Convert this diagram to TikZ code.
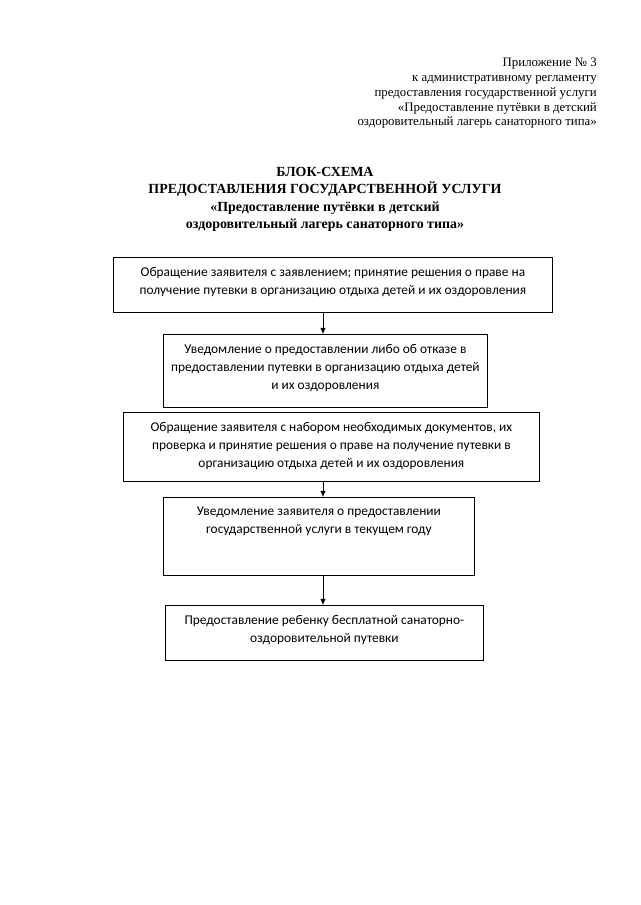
\documentclass[tikz,border=0pt]{standalone}
\usepackage{fontspec}
\setmainfont{Liberation Serif}
\newfontfamily\calibrifont{Carlito}
\usetikzlibrary{arrows.meta,positioning}
\newlength\pxu
\setlength\pxu{0.0328125cm}
\providecommand{\stagetext}[3]{\parbox[t][#2\pxu][t]{#1\pxu}{\centering\vspace*{9pt}#3}}

\begin{document}
\begin{tikzpicture}[
    x=0.0328125cm, y=-0.0328125cm,
    stage/.style={draw, line width=0.7pt, inner sep=0pt, anchor=north west, font=\calibrifont\fontsize{12.5}{17}\selectfont},
    header/.style={align=right, anchor=north east, inner sep=0pt, font=\fontsize{12}{13.8}\selectfont},
    heading/.style={align=center, anchor=north, inner sep=0pt, font=\bfseries\fontsize{13}{16.3}\selectfont},
    arr/.style={-{Latex[length=2mm,width=1.8mm]}, line width=0.6pt}
]
\useasboundingbox (0,0) rectangle (640,905);

\node[header] (annex) at (597,58) {Приложение № 3\\к административному регламенту\\предоставления государственной услуги\\«Предоставление путёвки в детский\\оздоровительный лагерь санаторного типа»};

\node[heading] (title) at (325,167) {БЛОК-СХЕМА\\ПРЕДОСТАВЛЕНИЯ ГОСУДАРСТВЕННОЙ УСЛУГИ\\«Предоставление путёвки в детский\\оздоровительный лагерь санаторного типа»};

\node[stage] (apply) at (113,257) {\stagetext{439}{55}{Обращение заявителя с заявлением; принятие решения о праве на\\получение путевки в организацию отдыха детей и их оздоровления}};
\node[stage] (notice) at (163,334) {\stagetext{324}{73}{Уведомление о предоставлении либо об отказе в\\предоставлении путевки в организацию отдыха детей\\и их оздоровления}};
\node[stage] (docs) at (123,412) {\stagetext{416}{69}{Обращение заявителя с набором необходимых документов, их\\проверка и принятие решения о праве на получение путевки в\\организацию отдыха детей и их оздоровления}};
\node[stage] (inform) at (163,497) {\stagetext{311}{78}{Уведомление заявителя о предоставлении\\государственной услуги в текущем году}};
\node[stage] (voucher) at (165,605) {\stagetext{318}{55}{Предоставление ребенку бесплатной санаторно-\\оздоровительной путевки}};

% vertical spine of the arrows
\coordinate (spine) at (323,0);
\draw[arr] (apply.south -| spine) -- (notice.north -| spine);
\draw[arr] (docs.south -| spine) -- (inform.north -| spine);
\draw[arr] (inform.south -| spine) -- (voucher.north -| spine);
\end{tikzpicture}
\end{document}
